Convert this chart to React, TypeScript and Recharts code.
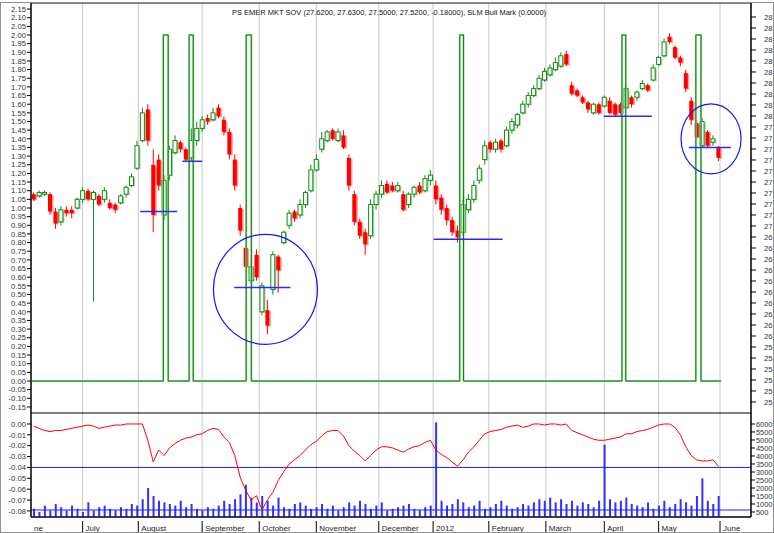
import React from "react";
import {
  ComposedChart,
  Bar,
  Line,
  XAxis,
  YAxis,
  CartesianGrid,
  ReferenceLine,
  ReferenceDot,
  ReferenceArea,
} from "recharts";

// candles, two trading days each, in units of the left axis
const opens = [
  1.08, 1.07, 1.08, 1.08, 0.98, 0.92, 0.99, 0.99, 1.0, 1.05,
  1.1, 1.05, 1.07, 1.05, 1.03, 1.02, 1.03, 1.08, 1.13, 1.23,
  1.39, 1.57, 1.25, 1.28, 0.96, 1.19, 1.32, 1.38, 1.34, 1.29,
  1.39, 1.46, 1.52, 1.51, 1.58, 1.51, 1.44, 1.28, 1.0, 0.77,
  0.58, 0.73, 0.4, 0.41, 0.53, 0.72, 0.8, 0.9, 0.98, 0.96,
  1.02, 1.1, 1.22, 1.34, 1.39, 1.45, 1.39, 1.42, 1.29, 1.08,
  0.92, 0.86, 0.84, 1.02, 1.08, 1.14, 1.13, 1.1, 1.08, 1.02,
  1.08, 1.13, 1.1, 1.16, 1.13, 1.06, 1.0, 0.93, 0.87, 0.86,
  0.99, 1.05, 1.16, 1.28, 1.38, 1.34, 1.39, 1.36, 1.45, 1.48,
  1.55, 1.6, 1.65, 1.69, 1.74, 1.77, 1.8, 1.82, 1.89, 1.71,
  1.68, 1.64, 1.61, 1.55, 1.6, 1.59, 1.62, 1.6, 1.6, 1.58,
  1.64, 1.64, 1.69, 1.71, 1.74, 1.83, 1.88, 1.99, 1.93, 1.87,
  1.78, 1.62, 1.49, 1.36, 1.44, 1.38, 1.35,
];
const closes = [
  1.05, 1.09, 1.09, 0.98, 0.91, 0.99, 0.97, 0.97, 1.05, 1.1,
  1.05, 1.09, 1.02, 1.1, 1.0, 0.99, 1.07, 1.12, 1.18, 1.36,
  1.55, 1.39, 0.96, 1.13, 1.16, 1.34, 1.39, 1.34, 1.28, 1.39,
  1.46, 1.51, 1.5, 1.55, 1.53, 1.44, 1.31, 1.13, 0.87, 0.66,
  0.66, 0.6, 0.55, 0.32, 0.73, 0.64, 0.86, 0.97, 0.94, 1.02,
  1.09, 1.22, 1.28, 1.4, 1.44, 1.4, 1.44, 1.35, 1.13, 0.92,
  0.84, 0.79, 1.02, 1.08, 1.13, 1.09, 1.1, 1.13, 0.99, 1.08,
  1.12, 1.09, 1.17, 1.19, 1.05, 0.99, 0.93, 0.86, 0.83, 1.02,
  1.05, 1.13, 1.23, 1.36, 1.34, 1.38, 1.34, 1.45, 1.5, 1.54,
  1.6, 1.65, 1.69, 1.75, 1.79, 1.81, 1.84, 1.88, 1.83, 1.66,
  1.65, 1.61, 1.57, 1.6, 1.55, 1.64, 1.55, 1.54, 1.55, 1.69,
  1.6, 1.67, 1.72, 1.68, 1.81, 1.87, 1.96, 1.96, 1.87, 1.84,
  1.69, 1.51, 1.41, 1.5, 1.36, 1.4, 1.29,
];
const highs = [
  1.09, 1.1, 1.1, 1.09, 1.0, 1.01, 1.01, 1.01, 1.06, 1.12,
  1.11, 1.1, 1.08, 1.12, 1.05, 1.03, 1.08, 1.13, 1.2, 1.39,
  1.58, 1.6, 1.34, 1.31, 1.19, 1.36, 1.42, 1.39, 1.35, 1.46,
  1.5, 1.53, 1.54, 1.58, 1.6, 1.53, 1.46, 1.31, 1.02, 0.8,
  0.71, 0.76, 0.57, 0.47, 0.75, 0.73, 0.87, 0.99, 0.99, 1.05,
  1.1, 1.25, 1.31, 1.44, 1.45, 1.46, 1.46, 1.45, 1.31, 1.1,
  0.94, 0.88, 1.05, 1.1, 1.16, 1.16, 1.15, 1.15, 1.1, 1.09,
  1.13, 1.15, 1.19, 1.22, 1.16, 1.08, 1.02, 0.95, 0.9, 1.05,
  1.08, 1.16, 1.25, 1.39, 1.39, 1.4, 1.4, 1.47, 1.52, 1.55,
  1.62, 1.67, 1.71, 1.77, 1.81, 1.83, 1.87, 1.9, 1.91, 1.73,
  1.69, 1.65, 1.62, 1.61, 1.61, 1.65, 1.64, 1.61, 1.61, 1.72,
  1.65, 1.68, 1.74, 1.72, 1.83, 1.88, 1.98, 2.01, 1.94, 1.88,
  1.8, 1.64, 1.51, 1.52, 1.45, 1.42, 1.36,
];
const lows = [
  1.04, 1.06, 1.07, 0.96, 0.88, 0.9, 0.95, 0.94, 0.99, 1.03,
  1.04, 0.46, 1.01, 1.03, 0.99, 0.97, 1.02, 1.06, 1.12, 1.22,
  1.38, 1.36, 0.86, 1.1, 0.93, 1.16, 1.31, 1.32, 1.27, 1.27,
  1.36, 1.44, 1.48, 1.5, 1.52, 1.42, 1.28, 1.1, 0.84, 0.0,
  0.56, 0.58, 0.38, 0.27, 0.5, 0.51, 0.79, 0.88, 0.92, 0.94,
  1.0, 1.09, 1.21, 1.32, 1.38, 1.39, 1.38, 1.34, 1.1, 0.9,
  0.82, 0.73, 0.82, 0.99, 1.06, 1.08, 1.09, 1.09, 0.98, 1.0,
  1.06, 1.08, 1.09, 1.13, 1.02, 0.96, 0.9, 0.84, 0.8, 0.84,
  0.97, 1.03, 1.14, 1.25, 1.32, 1.32, 1.32, 1.35, 1.43, 1.46,
  1.54, 1.58, 1.64, 1.68, 1.73, 1.76, 1.79, 1.81, 1.82, 1.65,
  1.64, 1.6, 1.55, 1.54, 1.54, 1.58, 1.54, 1.53, 1.54, 1.57,
  1.58, 1.62, 1.68, 1.67, 1.73, 1.82, 1.87, 1.95, 1.86, 1.82,
  1.67, 1.48, 1.39, 1.35, 1.35, 1.36, 1.27,
];

// lower panel: drawdown (left axis) and volume (right axis)
const drawdown = [
  -0.002, -0.004, -0.006, -0.007, -0.006, -0.006, -0.005, -0.004, -0.003, -0.002,
  -0.001, -0.002, -0.004, -0.003, -0.002, -0.001, -0.001, 0, 0, 0,
  0, -0.015, -0.035, -0.024, -0.029, -0.022, -0.018, -0.015, -0.013, -0.012,
  -0.01, -0.009, -0.006, -0.004, -0.005, -0.012, -0.017, -0.029, -0.049, -0.061,
  -0.07, -0.066, -0.079, -0.07, -0.063, -0.052, -0.044, -0.037, -0.033, -0.029,
  -0.024, -0.019, -0.016, -0.011, -0.007, -0.006, -0.006, -0.011, -0.02, -0.025,
  -0.029, -0.034, -0.029, -0.024, -0.021, -0.021, -0.022, -0.024, -0.026, -0.023,
  -0.021, -0.02, -0.017, -0.015, -0.024, -0.028, -0.031, -0.035, -0.039, -0.033,
  -0.026, -0.021, -0.015, -0.009, -0.007, -0.006, -0.005, -0.003, -0.002, -0.001,
  -0.003, -0.002, 0, 0, -0.001, 0, 0, -0.001, 0, -0.006,
  -0.008, -0.01, -0.012, -0.014, -0.015, -0.015, -0.014, -0.013, -0.012, -0.009,
  -0.009, -0.007, -0.006, -0.005, -0.003, -0.001, 0, 0, -0.003, -0.01,
  -0.021, -0.029, -0.033, -0.034, -0.034, -0.033, -0.039,
];
const volumes = [
  700, 500, 900, 600, 1000, 800, 600, 900, 700, 500,
  1100, 600, 800, 900, 700, 600, 800, 700, 1000, 900,
  1300, 2000, 1500, 1200, 1100, 1000, 900, 1200, 800, 1000,
  700, 600, 800, 700, 900, 1200, 1000, 1300, 1600, 2200, 1400, 1100,
  1500, 1200, 900, 1400, 800, 700, 1000, 1100, 900, 700, 800,
  1000, 700, 900, 600, 800, 1100, 900, 1200, 1000, 700,
  900, 1100, 600, 700, 800, 900, 1000, 700, 600, 800, 900,
  6100, 1200, 900, 1000, 1300, 1100, 800, 900, 1200, 700,
  800, 1000, 1200, 900, 700, 800, 1000, 900, 1100, 1300,
  1200, 1400, 1100, 1300, 1000, 1200, 900, 1100, 1000, 800, 1200,
  4700, 1300, 1100, 1200, 1400, 1000, 900, 800, 1100, 700, 900,
  1200, 800, 1000, 1300, 1100, 900, 1500, 2600, 1200, 1000, 1500,
];

// SLM Bull Mark: trading days where it jumps to its top value and back
const slmHigh = 2.0;
const slmSignals = [
  [48.7, 50.5],
  [58.2, 59.7],
  [79.2, 81.1],
  [157.8, 159.2],
  [217.5, 218.9],
  [244.7, 246.6],
];

// blue marks drawn on the price panel (trading day from, to, level)
const marks = [
  [40.2, 53.8, 0.98],
  [55.7, 63.0, 1.27],
  [74.8, 95.5, 0.54],
  [148.2, 173.6, 0.82],
  [210.8, 228.5, 1.53],
  [242.2, 257.6, 1.35],
];

const monthStarts = [0, 19, 39.5, 63, 84, 105, 128, 148, 168.5, 189.5, 211, 231, 253.6];
const monthLabels = [
  "ne", "July", "August", "September", "October", "November", "December",
  "2012", "February", "March", "April", "May", "June",
];

const leftTicks = [
  2.15, 2.1, 2.05, 2, 1.95, 1.9, 1.85, 1.8, 1.75, 1.7, 1.65, 1.6, 1.55, 1.5,
  1.45, 1.4, 1.35, 1.3, 1.25, 1.2, 1.15, 1.1, 1.05, 1, 0.95, 0.9, 0.85, 0.8,
  0.75, 0.7, 0.65, 0.6, 0.55, 0.5, 0.45, 0.4, 0.35, 0.3, 0.25, 0.2, 0.15, 0.1,
  0.05, 0, -0.05, -0.1, -0.15,
];
const priceTicks = [
  28.9, 28.8, 28.7, 28.6, 28.5, 28.4, 28.3, 28.2, 28.1, 28.0,
  27.9, 27.8, 27.7, 27.6, 27.5, 27.4, 27.3, 27.2, 27.1, 27.0,
  26.9, 26.8, 26.7, 26.6, 26.5, 26.4, 26.3, 26.2, 26.1, 26.0,
  25.9, 25.8, 25.7, 25.6, 25.5, 25.4,
];
const ddTicks = [0, -0.01, -0.02, -0.03, -0.04, -0.05, -0.06, -0.07, -0.08];
const volTicks = [6000, 5500, 5000, 4500, 4000, 3500, 3000, 2500, 2000, 1500, 1000, 500];

const title =
  "PS EMER MKT SOV (27.6200, 27.6300, 27.5000, 27.5200, -0.18000), SLM Bull Mark (0.0000)";

const dayMax = 265;

const rows = opens.map((o, i) => ({
  day: 2 * i + 1,
  open: o,
  high: highs[i],
  low: lows[i],
  close: closes[i],
  range: [lows[i], highs[i]],
  dd: drawdown[i],
  vol: volumes[i],
}));

const slmPoints: { day: number; v: number }[] = [{ day: 0, v: 0 }];
slmSignals.forEach(([a, b]) => {
  slmPoints.push({ day: a, v: slmHigh }, { day: b, v: 0 });
});
slmPoints.push({ day: 254, v: 0 });

const Candle = (props: any) => {
  const { x, y, width, height, payload } = props;
  if (x == null || !payload) return null;
  const { open, close, high, low } = payload;
  const top = Math.min(y, y + height);
  const h = Math.abs(height);
  const k = high > low ? h / (high - low) : 0;
  const yv = (v: number) => top + (high - v) * k;
  const cx = x + width / 2;
  const up = close >= open;
  const col = up ? "#138a13" : "#ff0000";
  const pale = up ? "#9ed89e" : "#ff9c9c";
  const bTop = yv(Math.max(open, close));
  const bH = Math.max(yv(Math.min(open, close)) - bTop, 1.5);
  return (
    <g>
      <rect x={cx - 0.5} y={bTop + 1} width={4} height={bH} fill={pale} />
      <line x1={cx} x2={cx} y1={yv(high)} y2={yv(low)} stroke={low === 0 ? pale : col} strokeWidth={1} />
      {up ? (
        <rect x={cx - 2} y={bTop} width={4} height={bH} fill="#ffffff" stroke={col} strokeWidth={1} />
      ) : (
        <rect x={cx - 2} y={bTop} width={4} height={bH} fill={col} />
      )}
    </g>
  );
};

const Ellipse = (rx: number, ry: number) => (p: any) =>
  p.cx == null ? <g /> : (
    <ellipse cx={p.cx} cy={p.cy} rx={rx} ry={ry} fill="none" stroke="#1515ff" strokeWidth={1.2} />
  );

const monthGrid = ({ xAxis, offset }: any) => {
  const s = xAxis && typeof xAxis.scale === "function" ? xAxis.scale : null;
  return monthStarts
    .slice(1)
    .map((d) => (s ? s(d) : offset.left + (d / dayMax) * offset.width));
};

const MonthTick = (props: any) => {
  const { x, y, payload } = props;
  const i = monthStarts.indexOf(payload.value);
  return (
    <g>
      {i > 0 && <line x1={x} x2={x} y1={y - 4} y2={y + 10} stroke="#000" />}
      <text x={x + 3} y={y + 6} fontSize={8} fill="#222" textAnchor="start">
        {monthLabels[i]}
      </text>
    </g>
  );
};

const tickStyle = { fontSize: 7.7, fill: "#333" };

export default function App() {
  return (
    <div
      style={{
        position: "absolute",
        left: 0,
        top: 0,
        width: 774,
        height: 533,
        overflow: "hidden",
        background: "#fff",
        fontFamily: '"Liberation Sans", Arial, sans-serif',
      }}
    >
      <ComposedChart width={774} height={413} data={rows} margin={{ top: 3, right: 0, bottom: 0, left: 0 }}>
        <CartesianGrid horizontal={false} stroke="#c8c8c8" verticalCoordinatesGenerator={monthGrid} />
        <XAxis type="number" dataKey="day" domain={[0, dayMax]} hide allowDataOverflow />
        <YAxis
          yAxisId="left"
          width={31}
          domain={[-0.185, 2.185]}
          ticks={leftTicks}
          interval={0}
          allowDataOverflow
          tickSize={4}
          tickMargin={1}
          tick={tickStyle}
          tickFormatter={(v: number) => v.toFixed(2)}
          axisLine={{ stroke: "#000" }}
          tickLine={{ stroke: "#000" }}
        />
        <YAxis
          yAxisId="price"
          orientation="right"
          width={23}
          domain={[25.3, 29.027]}
          ticks={priceTicks}
          interval={0}
          allowDataOverflow
          tickSize={5}
          tickMargin={8}
          tick={tickStyle}
          tickFormatter={(v: number) => String(Math.floor(v + 1e-9))}
          axisLine={{ stroke: "#000" }}
          tickLine={{ stroke: "#000" }}
        />
        <ReferenceArea yAxisId="left" x1={0} x2={dayMax} y1={-0.185} y2={2.185} fill="none" stroke="#000" />
        <Line
          yAxisId="left"
          data={slmPoints}
          dataKey="v"
          type="stepAfter"
          stroke="#a6dba6"
          strokeWidth={2}
          dot={false}
          isAnimationActive={false}
        />
        <Bar yAxisId="left" dataKey="range" barSize={4} shape={Candle} isAnimationActive={false} />
        <Line
          yAxisId="left"
          data={slmPoints}
          dataKey="v"
          type="stepAfter"
          stroke="#008000"
          strokeWidth={1}
          dot={false}
          isAnimationActive={false}
        />
        {marks.map(([a, b, v], i) => (
          <ReferenceLine
            key={i}
            yAxisId="left"
            segment={[{ x: a, y: v }, { x: b, y: v }]}
            stroke="#2b2bff"
            strokeWidth={1.5}
          />
        ))}
        <ReferenceDot yAxisId="left" x={86.3} y={0.53} r={50} shape={Ellipse(52, 55)} />
        <ReferenceDot yAxisId="left" x={250.3} y={1.4} r={30} shape={Ellipse(30, 35)} />
      </ComposedChart>

      <ComposedChart width={774} height={120} data={rows} margin={{ top: 0, right: 0, bottom: 0, left: 0 }}>
        <CartesianGrid horizontal={false} stroke="#c8c8c8" verticalCoordinatesGenerator={monthGrid} />
        <XAxis
          type="number"
          dataKey="day"
          domain={[0, dayMax]}
          ticks={monthStarts}
          interval={0}
          height={16}
          tickLine={false}
          tick={MonthTick}
          axisLine={{ stroke: "#000" }}
          allowDataOverflow
        />
        <YAxis
          yAxisId="dd"
          width={31}
          domain={[-0.0856, 0.0101]}
          ticks={ddTicks}
          interval={0}
          allowDataOverflow
          tickSize={4}
          tickMargin={1}
          tick={tickStyle}
          tickFormatter={(v: number) => v.toFixed(2)}
          axisLine={{ stroke: "#000" }}
          tickLine={{ stroke: "#000" }}
        />
        <YAxis
          yAxisId="vol"
          orientation="right"
          width={23}
          domain={[187, 6687]}
          ticks={volTicks}
          interval={0}
          allowDataOverflow
          tickSize={4}
          tickMargin={1}
          tick={{ fontSize: 7.4, fill: "#333" }}
          axisLine={{ stroke: "#000" }}
          tickLine={{ stroke: "#000" }}
        />
        <ReferenceArea yAxisId="dd" x1={0} x2={dayMax} y1={-0.0856} y2={0.0101} fill="none" stroke="#000" />
        <Bar yAxisId="vol" dataKey="vol" fill="#3030ff" barSize={2} isAnimationActive={false} />
        <ReferenceLine yAxisId="dd" y={-0.04} stroke="#2020ff" />
        <ReferenceLine yAxisId="vol" y={625} stroke="#2020ff" />
        <Line
          yAxisId="dd"
          dataKey="dd"
          stroke="#ff0000"
          strokeWidth={1}
          dot={false}
          isAnimationActive={false}
        />
      </ComposedChart>

      <div
        style={{
          position: "absolute",
          left: 0,
          top: 9,
          width: 778,
          textAlign: "center",
          fontSize: 7.5,
          lineHeight: "8px",
          color: "#111",
          whiteSpace: "nowrap",
        }}
      >
        {title}
      </div>
      <div
        style={{
          position: "absolute",
          left: 0,
          top: 2,
          width: 774,
          height: 531,
          boxSizing: "border-box",
          border: "1px solid #909090",
          pointerEvents: "none",
        }}
      />
    </div>
  );
}
